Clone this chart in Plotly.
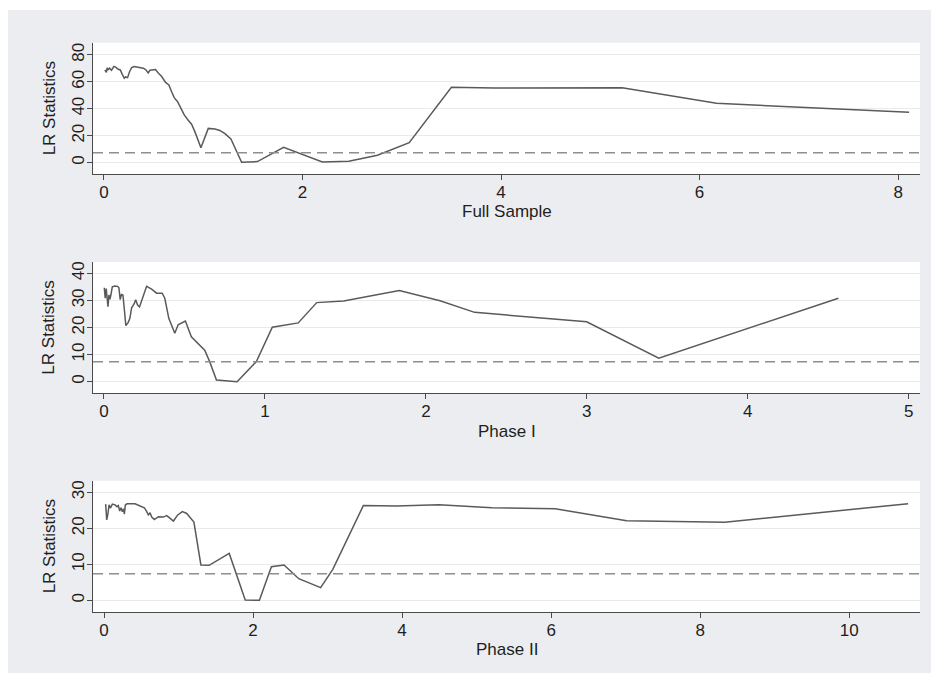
import plotly.graph_objects as go
from plotly.subplots import make_subplots

# ---------------- data ----------------
CRITICAL = 7.35

full_x = [0.01, 0.024, 0.034, 0.04, 0.057, 0.077, 0.10, 0.118, 0.144, 0.165, 0.185, 0.205, 0.218,
          0.238, 0.258, 0.279, 0.305, 0.346, 0.396, 0.420, 0.446, 0.463, 0.497, 0.52, 0.547, 0.58,
          0.621, 0.654, 0.681, 0.708, 0.742, 0.775, 0.809, 0.849, 0.883, 0.916, 0.977, 1.051,
          1.118, 1.168, 1.219, 1.279, 1.387, 1.546, 1.81, 2.2, 2.467, 2.755, 3.075, 3.50, 3.93,
          5.22, 6.17, 8.11]
full_y = [68.7, 67.0, 70.4, 68.7, 70.0, 68.4, 71.3, 70.8, 69.2, 68.7, 65.4, 62.5, 63.5,
          63.0, 67.4, 70.4, 71.3, 70.8, 70.0, 69.0, 66.5, 68.5, 68.5, 69.0, 66.5, 64.0,
          59.5, 57.6, 52.7, 48.2, 45.2, 40.8, 35.4, 31.4, 28.5, 23.0, 11.1, 25.4,
          24.9, 23.9, 21.5, 17.5, 0.3, 0.8, 11.4, 0.5, 1.0, 5.5, 14.8, 55.8, 55.3,
          55.6, 44.0, 37.3]

p1_x = [0.002, 0.008, 0.014, 0.021, 0.025, 0.031, 0.037, 0.043, 0.052, 0.068, 0.085, 0.093,
        0.101, 0.109, 0.118, 0.126, 0.136, 0.151, 0.161, 0.172, 0.188, 0.197, 0.209, 0.221,
        0.238, 0.265, 0.296, 0.327, 0.362, 0.378, 0.403, 0.44, 0.461, 0.506, 0.543, 0.605,
        0.626, 0.657, 0.699, 0.827, 0.947, 1.046, 1.207, 1.322, 1.489, 1.835, 2.088, 2.303,
        2.999, 3.447, 4.563]
p1_y = [34.7, 30.8, 34.4, 31.4, 27.7, 32.0, 30.4, 32.0, 35.0, 35.3, 35.2, 34.7,
        30.3, 32.2, 32.0, 27.1, 20.7, 21.9, 23.4, 27.3, 28.8, 30.3, 28.3, 27.6,
        30.8, 35.2, 34.2, 32.7, 32.7, 30.8, 23.4, 17.9, 21.0, 22.4, 16.6, 13.0,
        11.6, 7.4, 0.6, 0.0, 7.4, 20.1, 21.7, 29.2, 29.8, 33.7, 29.9, 25.6,
        22.1, 8.7, 30.8]

p2_x = [0.022, 0.036, 0.05, 0.068, 0.085, 0.112, 0.148, 0.174, 0.192, 0.21, 0.228, 0.246,
        0.264, 0.273, 0.286, 0.309, 0.416, 0.483, 0.541, 0.573, 0.595, 0.617, 0.64, 0.675,
        0.729, 0.796, 0.841, 0.872, 0.931, 0.989, 1.051, 1.11, 1.206, 1.30, 1.41, 1.68,
        1.895, 2.085, 2.246, 2.416, 2.613, 2.907, 3.07, 3.48, 3.92, 4.494, 5.205, 6.055,
        7.013, 8.33, 10.79]
p2_y = [26.7, 22.3, 23.7, 26.5, 25.6, 26.7, 26.5, 26.0, 26.3, 24.8, 25.7, 24.6,
        25.4, 23.9, 26.5, 26.8, 26.8, 26.3, 25.7, 24.6, 23.7, 24.3, 23.1, 22.4,
        23.2, 23.1, 23.5, 23.0, 22.0, 23.7, 24.6, 24.1, 21.7, 9.8, 9.7, 13.0,
        0.1, 0.0, 9.3, 9.8, 6.0, 3.5, 8.6, 26.3, 26.2, 26.5, 25.7, 25.4,
        22.1, 21.7, 26.8]

titles = ["Full Sample", "Phase I", "Phase II"]
y_label = "LR Statistics"
x_ticks = [[0, 2, 4, 6, 8], [0, 1, 2, 3, 4, 5], [0, 2, 4, 6, 8, 10]]
y_ticks = [[0, 20, 40, 60, 80], [0, 10, 20, 30, 40], [0, 10, 20, 30]]
x_ranges = [[-0.11, 8.22], [-0.068, 5.07], [-0.148, 10.95]]
y_ranges = [[-8.4, 88.9], [-4.3, 44.2], [-3.25, 33.2]]

series = [(full_x, full_y), (p1_x, p1_y), (p2_x, p2_y)]

# ---------------- layout geometry (screen pixels) ----------------
OX, OY = 8, 8            # page body margin offset
W, H = 939 - OX, 673 - OY
LEFT, RIGHT = 93, 920
PANELS = [(42.7, 174.0), (262.0, 393.3), (480.7, 612.0)]  # top, bottom
XTITLE_Y = [212, 431, 649]


def px(x):
    return (x - OX) / W


def py(y):
    return 1 - (y - OY) / H


BG = "#ECEDF0"
LINE = "#5A5A5A"
DASH = "#8E8E8E"
GRID = "#EAEAEA"
FONT = "Liberation Sans, Arial, sans-serif"
FS = 17
TXT = "#1E1E1E"

fig = make_subplots(rows=3, cols=1)

for i, (xs, ys) in enumerate(series):
    fig.add_trace(go.Scatter(x=xs, y=ys, mode="lines",
                             line=dict(color=LINE, width=1.5), showlegend=False,
                             hoverinfo="x+y"), row=i + 1, col=1)
    fig.add_hline(y=CRITICAL, line=dict(color=DASH, width=1.6, dash="10px,6px"),
                  row=i + 1, col=1)

for i, (top, bot) in enumerate(PANELS):
    n = "" if i == 0 else str(i + 1)
    fig.layout["xaxis" + n].update(
        domain=[px(LEFT), px(RIGHT)], range=x_ranges[i], tickvals=x_ticks[i],
        showline=True, linecolor="#4A4A4A", linewidth=1.2, ticks="outside",
        ticklen=5, tickwidth=1.2, tickcolor="#4A4A4A", showgrid=False, zeroline=False,
        ticklabelstandoff=-3,
        tickfont=dict(family=FONT, size=FS, color=TXT), automargin=False)
    fig.layout["yaxis" + n].update(
        domain=[py(bot), py(top)], range=y_ranges[i], tickvals=y_ticks[i],
        showline=True, linecolor="#4A4A4A", linewidth=1.2, ticks="outside",
        ticklen=5, tickwidth=1.2, tickcolor="#4A4A4A", showgrid=True, gridcolor=GRID,
        gridwidth=1, zeroline=False, tickangle=-90, ticklabelstandoff=-4,
        tickfont=dict(family=FONT, size=FS, color=TXT), automargin=False)
    # axis titles
    fig.add_annotation(text=titles[i], xref="paper", yref="paper",
                       x=px((LEFT + RIGHT) / 2), y=py(XTITLE_Y[i]),
                       showarrow=False, xanchor="center", yanchor="middle",
                       font=dict(family=FONT, size=FS, color=TXT))
    fig.add_annotation(text=y_label, xref="paper", yref="paper",
                       x=px(49), y=py((top + bot) / 2), textangle=-90,
                       showarrow=False, xanchor="center", yanchor="middle",
                       font=dict(family=FONT, size=FS, color=TXT))

# thin white strip at the very top of the grey graph region
fig.add_shape(type="rect", xref="paper", yref="paper", x0=0, x1=1, y0=py(10), y1=1,
              fillcolor="white", line=dict(width=0), layer="below")

fig.update_layout(width=W, height=H, margin=dict(l=0, r=0, t=0, b=0, autoexpand=False),
                  paper_bgcolor=BG, plot_bgcolor="white", template="none",
                  showlegend=False, font=dict(family=FONT, size=FS, color=TXT))

fig.write_html("out.html")
